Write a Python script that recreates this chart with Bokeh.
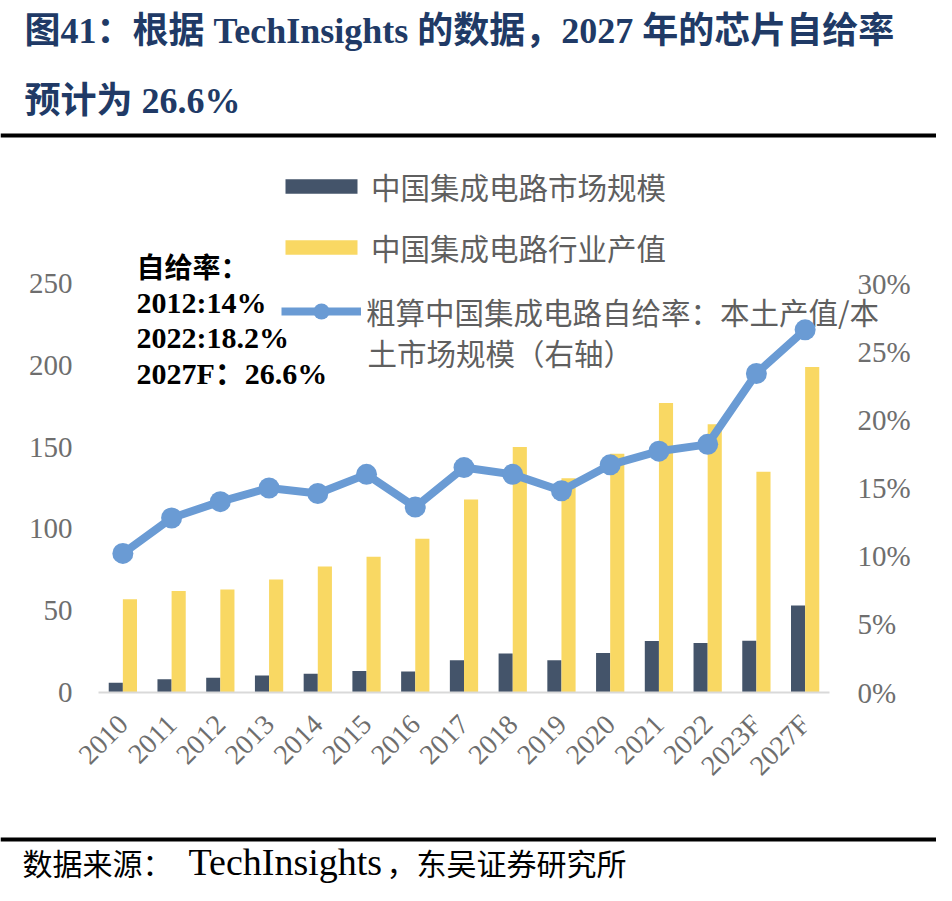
import math
from bokeh.plotting import figure
from bokeh.layouts import column
from bokeh.models import (FactorRange, Range1d, LinearAxis, FixedTicker, PrintfTickFormatter,
                          Legend, LegendItem, Label, Span, ColumnDataSource)
from bokeh.transform import dodge
from bokeh.embed import file_html
from bokeh.resources import INLINE

# ---------------- data ----------------
years = ["2010", "2011", "2012", "2013", "2014", "2015", "2016", "2017", "2018",
         "2019", "2020", "2021", "2022", "2023F", "2027F"]
market_size = [6.0, 8.1, 9.0, 10.4, 11.4, 13.2, 12.8, 19.7, 23.8, 19.7, 24.2, 31.5, 30.3, 31.7, 53.2]
industry_output = [57, 62, 63, 69, 77, 83, 94, 118, 150, 131, 146, 177, 164, 135, 199]
self_sufficiency = [10.2, 12.8, 14.0, 15.0, 14.6, 16.0, 13.6, 16.5, 16.0, 14.8, 16.7, 17.7, 18.2, 23.4, 26.6]
left_ticks = [0, 50, 100, 150, 200, 250]
right_ticks = [0, 5, 10, 15, 20, 25, 30]

title_line1 = "图41：根据 TechInsights 的数据，2027 年的芯片自给率"
title_line2 = "预计为 26.6%"
source_parts = ["数据来源：", "TechInsights", "，东吴证券研究所"]
legend_labels = ["中国集成电路市场规模", "中国集成电路行业产值",
                 "粗算中国集成电路自给率：本土产值/本", "土市场规模（右轴）"]

# ---------------- layout constants ----------------
W, H = 936, 885
ML, MR, MT, MB = 98, 107, 150, 193
frame_h = H - MT - MB          # 542
axis_px = 409                  # pixels from 0 to the top tick
yl_end = left_ticks[-1] * frame_h / axis_px
yr_end = right_ticks[-1] * frame_h / axis_px

SERIF_CJK = "'Liberation Serif', 'Noto Sans CJK SC'"
SERIF = "'Liberation Serif'"
CJK = "'Noto Sans CJK SC'"
GRAY = "#6e6e6e"
LEG_GRAY = "#5f5f5f"
NAVY = "#44546A"
YELLOW = "#F9D863"
BLUE = "#6A9BD4"
NAN = float("nan")

# ---------------- base canvas: title, rules, legend, notes, source ----------------
base = figure(width=W, height=H, x_range=Range1d(0, W), y_range=Range1d(H, 0),
              x_axis_location=None, y_axis_location=None, min_border=0,
              output_backend="svg", toolbar_location=None)
base.frame_align = False
base.outline_line_color = None
base.background_fill_color = "white"
base.border_fill_color = "white"
base.xgrid.visible = False
base.ygrid.visible = False

def text(x, y, t, font, size, color, bold=False):
    base.add_layout(Label(x=x, y=y, text=t, text_font=font, text_font_size=size,
                          text_font_style="bold" if bold else "normal",
                          text_color=color, text_baseline="middle", text_align="left"))

text(24, 30, title_line1, SERIF_CJK, "36px", "#203A66", True)
text(24, 100, title_line2, SERIF_CJK, "36px", "#203A66", True)
base.add_layout(Span(location=135, dimension="width", line_color="black", line_width=4))
base.add_layout(Span(location=839, dimension="width", line_color="black", line_width=4))
text(22, 861, source_parts[0], CJK, "30px", "black")
text(188, 861, source_parts[1], SERIF, "38px", "black")
text(386, 861, source_parts[2], CJK, "30px", "black")

# legend swatches (no data of their own, styled like the chart series)
nan_src = ColumnDataSource(dict(x=[NAN], y=[NAN]))
d_market = base.vbar(x="x", top="y", width=1, source=nan_src, fill_color=NAVY, line_color=None)
d_output = base.vbar(x="x", top="y", width=1, source=nan_src, fill_color=YELLOW, line_color=None)
d_line = base.line("x", "y", source=nan_src, line_width=8, line_color=BLUE)
d_dot = base.scatter("x", "y", source=nan_src, size=21, fill_color=BLUE, line_color=None)

def make_legend(label, rend, gw, gh, x_left, y_center, row_h):
    lg = Legend(items=[LegendItem(label=label, renderers=rend)],
                location=(x_left, H - (y_center + row_h / 2)),
                padding=0, margin=0, spacing=0, border_line_color=None,
                background_fill_alpha=0, glyph_width=gw, glyph_height=gh,
                label_standoff=5, label_height=row_h,
                label_text_font=CJK, label_text_font_size="29.5px",
                label_text_color=LEG_GRAY)
    base.add_layout(lg)

make_legend(legend_labels[0], [d_market], 90, 18, 276, 187, 40)
make_legend(legend_labels[1], [d_output], 90, 18, 276, 248, 40)
make_legend(legend_labels[2], [d_line, d_dot], 80, 40, 281, 312, 40)
text(367, 351, legend_labels[3], CJK, "29.5px", LEG_GRAY)

i2012, i2022, i2027 = years.index("2012"), years.index("2022"), years.index("2027F")
notes = ["自给率：",
         f"2012:{self_sufficiency[i2012]:g}%",
         f"2022:{self_sufficiency[i2022]:g}%",
         f"2027F：{self_sufficiency[i2027]:g}%"]
for t, yy, sz in zip(notes, [268, 302, 337, 373], ["28px", "30px", "30px", "30px"]):
    text(136, yy, t, SERIF_CJK, sz, "black", True)

# ---------------- chart (transparent, laid over the base) ----------------
p = figure(width=W, height=H, x_range=FactorRange(*years, range_padding=0),
           y_range=Range1d(0, yl_end), output_backend="svg", toolbar_location=None,
           min_border_left=ML, min_border_right=MR, min_border_top=MT, min_border_bottom=MB)
p.frame_align = False
p.extra_y_ranges = {"pct": Range1d(0, yr_end)}
p.outline_line_color = None
p.background_fill_color = None
p.border_fill_color = None
p.xgrid.visible = False
p.ygrid.visible = False
p.margin = (-H, 0, 0, 0)

src = ColumnDataSource(dict(year=years, market=market_size, output=industry_output,
                            rate=self_sufficiency))
p.vbar(x=dodge("year", -0.145, range=p.x_range), top="market", width=0.29,
       source=src, fill_color=NAVY, line_color=None)
p.vbar(x=dodge("year", 0.145, range=p.x_range), top="output", width=0.29,
       source=src, fill_color=YELLOW, line_color=None)
p.line("year", "rate", source=src, y_range_name="pct", line_width=8,
       line_color=BLUE, line_join="round")
p.scatter("year", "rate", source=src, y_range_name="pct", size=21,
          fill_color=BLUE, line_color=None)

yl = p.yaxis[0]
yl.ticker = FixedTicker(ticks=left_ticks)
yr = LinearAxis(y_range_name="pct", ticker=FixedTicker(ticks=right_ticks),
                formatter=PrintfTickFormatter(format="%d%%"))
p.add_layout(yr, "right")
for ax in (yl, yr):
    ax.axis_line_color = None
    ax.major_tick_line_color = None
    ax.minor_tick_line_color = None
    ax.major_label_text_font = "Liberation Serif"
    ax.major_label_text_font_size = "29px"
    ax.major_label_text_color = GRAY
yl.major_label_standoff = 20
yr.major_label_standoff = 22

xa = p.xaxis[0]
xa.axis_line_color = "#D9D9D9"
xa.axis_line_width = 2
xa.major_tick_line_color = None
xa.minor_tick_line_color = None
xa.major_label_orientation = math.pi / 4
xa.major_label_text_font = "Liberation Serif"
xa.major_label_text_font_size = "28px"
xa.major_label_text_color = GRAY
xa.major_label_standoff = 21

layout = column(base, p)
open("out.html", "w").write(file_html(layout, INLINE))
